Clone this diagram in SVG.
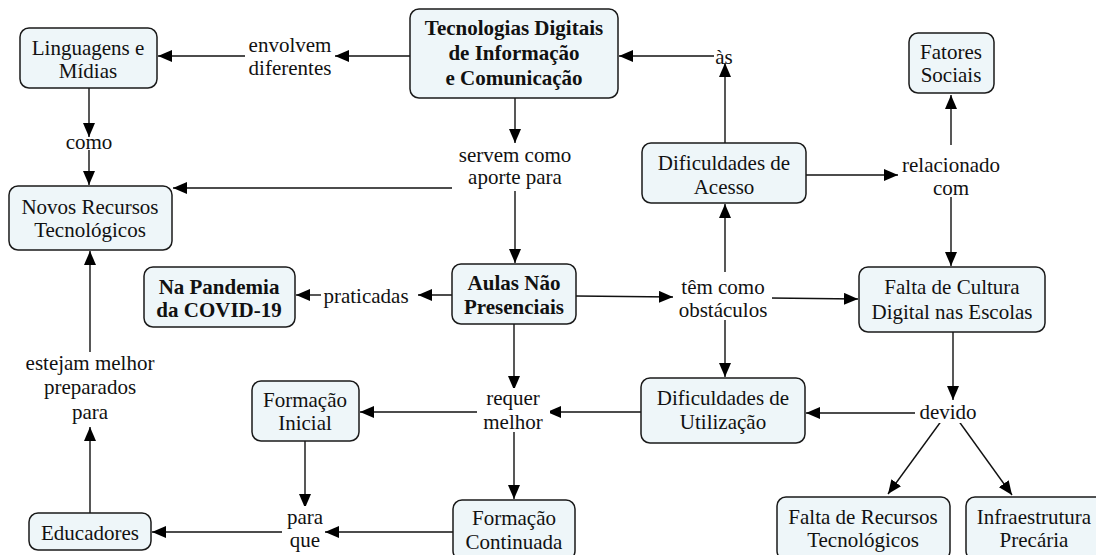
<svg xmlns="http://www.w3.org/2000/svg" width="1096" height="555" viewBox="0 0 1096 555">
<style>
.n{fill:#eef6f9;stroke:#1a1a1a;stroke-width:1.5}
text{font-family:"Liberation Serif","Times New Roman","DejaVu Serif",serif;font-size:21px;fill:#111;text-anchor:middle}
.b{font-weight:bold}
.c line{stroke:#111;stroke-width:1.4}
.w{fill:#fff}
</style>
<defs>
<marker id="a" markerUnits="userSpaceOnUse" markerWidth="14" markerHeight="12" refX="14" refY="6" orient="auto"><path d="M0,0 L14,6 L0,12 z" fill="#000"/></marker>
</defs>
<rect width="1096" height="555" fill="#fff"/>
<g class="c" id="connectors">
<line x1="410" y1="56" x2="335" y2="56" marker-end="url(#a)"/>
<line x1="245" y1="56" x2="158" y2="56" marker-end="url(#a)"/>
<line x1="89" y1="88" x2="89" y2="137" marker-end="url(#a)"/>
<line x1="89" y1="150" x2="89" y2="185" marker-end="url(#a)"/>
<line x1="515" y1="98" x2="515" y2="143" marker-end="url(#a)"/>
<line x1="455" y1="188" x2="173" y2="188" marker-end="url(#a)"/>
<line x1="515" y1="191" x2="515" y2="263" marker-end="url(#a)"/>
<line x1="725" y1="143" x2="725" y2="63" marker-end="url(#a)"/>
<line x1="714" y1="56" x2="619" y2="56" marker-end="url(#a)"/>
<line x1="806" y1="175" x2="898" y2="175" marker-end="url(#a)"/>
<line x1="951" y1="145" x2="951" y2="95" marker-end="url(#a)"/>
<line x1="951" y1="197" x2="951" y2="266" marker-end="url(#a)"/>
<line x1="452" y1="295" x2="418" y2="295" marker-end="url(#a)"/>
<line x1="321" y1="295" x2="296" y2="295" marker-end="url(#a)"/>
<line x1="576" y1="296" x2="673" y2="297" marker-end="url(#a)"/>
<line x1="770" y1="298" x2="858" y2="299" marker-end="url(#a)"/>
<line x1="725" y1="272" x2="725" y2="204" marker-end="url(#a)"/>
<line x1="725" y1="318" x2="725" y2="377" marker-end="url(#a)"/>
<line x1="514" y1="324" x2="514" y2="390" marker-end="url(#a)"/>
<line x1="641" y1="412" x2="547" y2="412" marker-end="url(#a)"/>
<line x1="477" y1="412" x2="360" y2="412" marker-end="url(#a)"/>
<line x1="514" y1="430" x2="514" y2="499" marker-end="url(#a)"/>
<line x1="305" y1="441" x2="305" y2="508" marker-end="url(#a)"/>
<line x1="453" y1="532" x2="325" y2="532" marker-end="url(#a)"/>
<line x1="282" y1="532" x2="152" y2="532" marker-end="url(#a)"/>
<line x1="90" y1="513" x2="90" y2="427" marker-end="url(#a)"/>
<line x1="90" y1="353" x2="90" y2="251" marker-end="url(#a)"/>
<line x1="953" y1="332" x2="953" y2="400" marker-end="url(#a)"/>
<line x1="915" y1="413" x2="806" y2="413" marker-end="url(#a)"/>
<line x1="942" y1="420" x2="888" y2="494" marker-end="url(#a)"/>
<line x1="958" y1="420" x2="1012" y2="495" marker-end="url(#a)"/>
</g>
<g id="lbl-envolvem"><rect class="w" x="246" y="34" width="88" height="46"/><text x="290" y="52">envolvem</text><text x="290" y="75">diferentes</text></g>
<g id="lbl-como"><text x="89" y="149">como</text></g>
<g id="lbl-servem"><rect class="w" x="452" y="144" width="126" height="46"/><text x="515" y="162">servem como</text><text x="515" y="184">aporte para</text></g>
<g id="lbl-as"><text x="724" y="64">às</text></g>
<g id="lbl-relacionado"><rect class="w" x="898" y="153" width="106" height="44"/><text x="951" y="172">relacionado</text><text x="951" y="195">com</text></g>
<g id="lbl-praticadas"><text x="366" y="303">praticadas</text></g>
<g id="lbl-tem"><rect class="w" x="674" y="274" width="98" height="46"/><text x="723" y="294">têm como</text><text x="723" y="317">obstáculos</text></g>
<g id="lbl-requer"><rect class="w" x="478" y="388" width="72" height="44"/><text x="513" y="405">requer</text><text x="513" y="429">melhor</text></g>
<g id="lbl-devido"><rect class="w" x="916" y="403" width="64" height="20"/><text x="948" y="419">devido</text></g>
<g id="lbl-paraque"><rect class="w" x="283" y="506" width="42" height="46"/><text x="305" y="524">para</text><text x="305" y="547">que</text></g>
<g id="lbl-estejam"><rect class="w" x="20" y="352" width="140" height="72"/><text x="90" y="370">estejam melhor</text><text x="90" y="394">preparados</text><text x="90" y="419">para</text></g>
<g id="n-linguagens"><rect class="n" x="20" y="28" width="137" height="60" rx="9"/><text x="88" y="55">Linguagens e</text><text x="88" y="78">Mídias</text></g>
<g id="n-novos"><rect class="n" x="9" y="186" width="163" height="64" rx="9"/><text x="90" y="214">Novos Recursos</text><text x="90" y="237">Tecnológicos</text></g>
<g id="n-tdic"><rect class="n" x="410" y="9" width="208" height="89" rx="9"/><text class="b" x="514" y="35">Tecnologias Digitais</text><text class="b" x="514" y="60">de Informação</text><text class="b" x="514" y="85">e Comunicação</text></g>
<g id="n-acesso"><rect class="n" x="642" y="143" width="164" height="60" rx="9"/><text x="724" y="170">Dificuldades de</text><text x="724" y="194">Acesso</text></g>
<g id="n-fatores"><rect class="n" x="909" y="33" width="85" height="60" rx="9"/><text x="951" y="59">Fatores</text><text x="951" y="82">Sociais</text></g>
<g id="n-cultura"><rect class="n" x="859" y="267" width="186" height="65" rx="9"/><text x="952" y="294">Falta de Cultura</text><text x="952" y="319">Digital nas Escolas</text></g>
<g id="n-aulas"><rect class="n" x="452" y="264" width="124" height="60" rx="9"/><text class="b" x="514" y="290">Aulas Não</text><text class="b" x="514" y="314">Presenciais</text></g>
<g id="n-pandemia"><rect class="n" x="144" y="267" width="151" height="60" rx="9"/><text class="b" x="219" y="294">Na Pandemia</text><text class="b" x="219" y="317">da COVID-19</text></g>
<g id="n-utilizacao"><rect class="n" x="641" y="378" width="164" height="65" rx="9"/><text x="723" y="405">Dificuldades de</text><text x="723" y="429">Utilização</text></g>
<g id="n-inicial"><rect class="n" x="252" y="381" width="107" height="60" rx="9"/><text x="305" y="407">Formação</text><text x="305" y="430">Inicial</text></g>
<g id="n-continuada"><rect class="n" x="453" y="500" width="122" height="60" rx="9"/><text x="514" y="525">Formação</text><text x="514" y="549">Continuada</text></g>
<g id="n-educadores"><rect class="n" x="29" y="513" width="122" height="37" rx="9"/><text x="90" y="540">Educadores</text></g>
<g id="n-recursos"><rect class="n" x="777" y="497" width="173" height="63" rx="9"/><text x="863" y="524">Falta de Recursos</text><text x="863" y="547">Tecnológicos</text></g>
<g id="n-infra"><rect class="n" x="966" y="497" width="140" height="63" rx="9"/><text x="1034" y="524">Infraestrutura</text><text x="1034" y="547">Precária</text></g>
</svg>
